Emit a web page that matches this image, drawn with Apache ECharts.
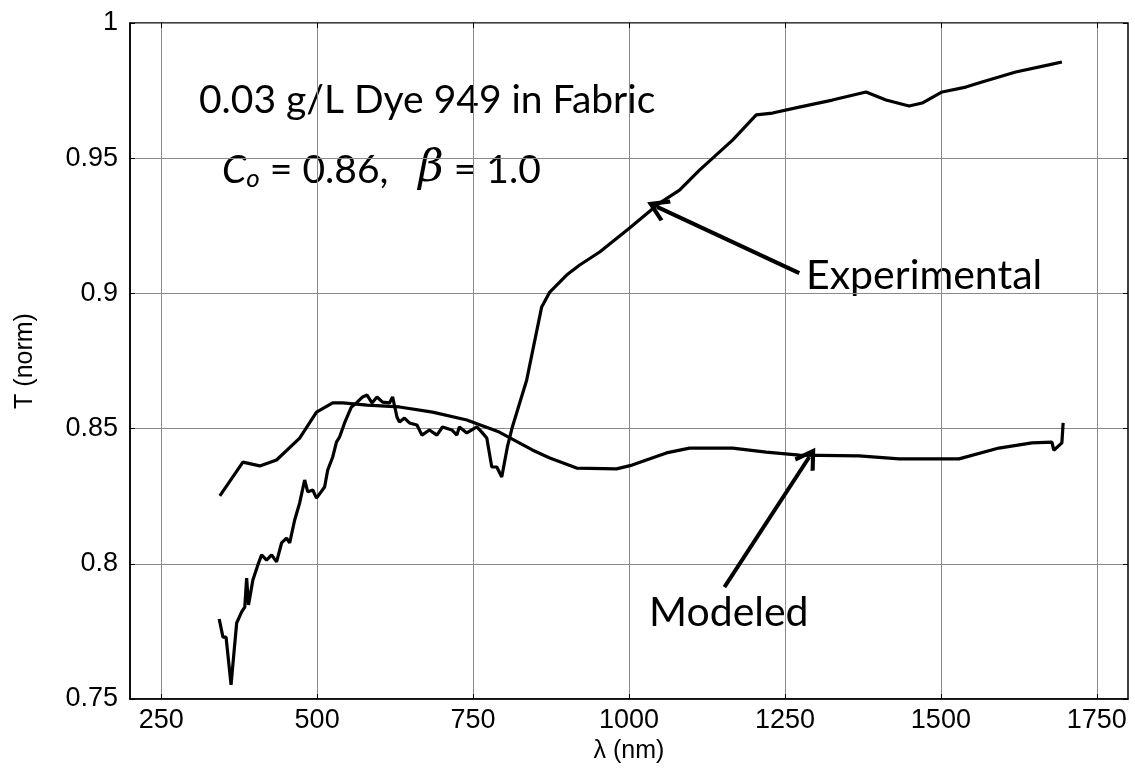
<!DOCTYPE html>
<html>
<head>
<meta charset="utf-8">
<script src="https://cdn.jsdelivr.net/npm/echarts@6/dist/echarts.min.js"></script>
<style>
html,body{margin:0;padding:0;background:#fff;}
#chart{width:1135px;height:770px;}
</style>
</head>
<body>
<div id="chart"></div>
<script>
// ---- data ----
const xTicks = [250, 500, 750, 1000, 1250, 1500, 1750];
const yTicks = [0.75, 0.8, 0.85, 0.9, 0.95, 1];

const modeledX = [344, 381, 408, 435, 472, 499, 525, 541, 580, 632, 685, 740, 792, 845, 873, 916, 980, 1005, 1060, 1097, 1166, 1220, 1273, 1369, 1433, 1529, 1593, 1646, 1678, 1681, 1694, 1696];
const modeledY = [0.8251, 0.8376, 0.8362, 0.8384, 0.8465, 0.8561, 0.8595, 0.8595, 0.8587, 0.8580, 0.8561, 0.8532, 0.8487, 0.8421, 0.8391, 0.8354, 0.8351, 0.8365, 0.8410, 0.8428, 0.8428, 0.8413, 0.8402, 0.8399, 0.8388, 0.8388, 0.8428, 0.8447, 0.8450, 0.8420, 0.8447, 0.8521];

const expX = [343, 349, 354, 362, 371, 379, 384, 387, 390, 397, 405, 411, 419, 427, 435, 443, 451, 456, 464, 472, 480, 485, 493, 499, 512, 517, 525, 531, 536, 544, 555, 563, 573, 580, 588, 596, 605, 616, 621, 628, 632, 640, 648, 660, 668, 680, 692, 701, 716, 724, 728, 740, 748, 756, 764, 772, 780, 788, 796, 805, 813, 836, 860, 873, 900, 921, 953, 1001, 1049, 1081, 1113, 1166, 1204, 1230, 1273, 1326, 1380, 1412, 1449, 1470, 1502, 1540, 1566, 1620, 1673, 1694];
const expY = [0.7796, 0.7729, 0.7729, 0.7552, 0.7781, 0.7822, 0.7840, 0.7947, 0.7848, 0.7940, 0.7996, 0.8033, 0.8014, 0.8033, 0.8007, 0.8077, 0.8095, 0.8077, 0.8162, 0.8225, 0.8310, 0.8266, 0.8273, 0.8243, 0.8284, 0.8347, 0.8395, 0.8450, 0.8469, 0.8521, 0.8580, 0.8595, 0.8617, 0.8624, 0.8595, 0.8617, 0.8598, 0.8595, 0.8617, 0.8543, 0.8524, 0.8539, 0.8521, 0.8513, 0.8476, 0.8495, 0.8476, 0.8506, 0.8495, 0.8476, 0.8506, 0.8484, 0.8495, 0.8506, 0.8487, 0.8465, 0.8358, 0.8358, 0.8321, 0.8432, 0.8506, 0.8680, 0.8950, 0.9005, 0.9068, 0.9105, 0.9153, 0.9242, 0.9334, 0.9382, 0.9456, 0.9567, 0.9660, 0.9667, 0.9689, 0.9715, 0.9745, 0.9715, 0.9693, 0.9704, 0.9745, 0.9763, 0.9782, 0.9819, 0.9845, 0.9856];

// annotation arrows: [tailX, tailY, headX, headY] in data units
const expArrow = [1273, 0.9075, 1045, 0.9320];
const modArrow = [1153, 0.7914, 1289, 0.8395];

const titleLine1 = '0.03 g/L Dye 949 in Fabric';
const expLabel = 'Experimental';
const modLabel = 'Modeled';

// ---- chart ----
const zip = (a, b) => a.map((v, i) => [v, b[i]]);
const chart = echarts.init(document.getElementById('chart'), null, {renderer: 'canvas'});
const tickFont = {fontFamily: 'Liberation Sans, Arial, sans-serif', fontSize: 27, color: '#000'};
const chevron = 'path://M0,0 L11,15 L8,17 L0,6 L-8,17 L-11,15 Z';
const arrowLine = (a) => ({
  silent: true,
  symbol: ['none', chevron],
  symbolSize: [24, 22],
  lineStyle: {color: '#000', width: 4, type: 'solid'},
  label: {show: false},
  data: [[{coord: [a[0], a[1]]}, {coord: [a[2], a[3]]}]]
});

const option = {
  backgroundColor: '#fff',
  animation: false,
  grid: {left: 130, right: 7, top: 23, bottom: 71, show: true, borderColor: '#000', borderWidth: 1.5},
  xAxis: [{
    type: 'value', min: 200, max: 1800,
    name: 'λ (nm)', nameLocation: 'middle', nameGap: 36,
    nameTextStyle: {fontFamily: 'Liberation Sans, Arial, sans-serif', fontSize: 25, color: '#000'},
    axisLine: {show: true, onZero: false, lineStyle: {color: '#000', width: 1.5}},
    axisTick: {show: true, inside: true, length: 5, customValues: xTicks, lineStyle: {color: '#000'}},
    axisLabel: Object.assign({customValues: xTicks, margin: 8, formatter: (v) => String(v)}, tickFont),
    splitLine: {show: true, lineStyle: {color: '#8a8a8a', width: 1}}
  }, {
    type: 'value', min: 200, max: 1800, position: 'top',
    axisLine: {show: false},
    axisTick: {show: true, inside: true, length: 5, customValues: xTicks, lineStyle: {color: '#000'}},
    axisLabel: {show: false},
    splitLine: {show: false}
  }],
  yAxis: [{
    type: 'value', min: 0.75, max: 1, interval: 0.05,
    name: 'T (norm)', nameLocation: 'middle', nameGap: 92,
    nameTextStyle: {fontFamily: 'Liberation Sans, Arial, sans-serif', fontSize: 25, color: '#000'},
    axisLine: {show: true, onZero: false, lineStyle: {color: '#000', width: 1.5}},
    axisTick: {show: true, inside: true, length: 5, lineStyle: {color: '#000'}},
    axisLabel: Object.assign({margin: 12}, tickFont),
    splitLine: {show: true, lineStyle: {color: '#8a8a8a', width: 1}}
  }, {
    type: 'value', min: 0.75, max: 1, interval: 0.05, position: 'right',
    axisLine: {show: false},
    axisTick: {show: true, inside: true, length: 5, lineStyle: {color: '#000'}},
    axisLabel: {show: false},
    splitLine: {show: false}
  }],
  series: [{
    name: 'Modeled', type: 'line', data: zip(modeledX, modeledY),
    showSymbol: false, smooth: false,
    lineStyle: {color: '#000', width: 3.2},
    markLine: arrowLine(modArrow)
  }, {
    name: 'Experimental', type: 'line', data: zip(expX, expY),
    showSymbol: false, smooth: false,
    lineStyle: {color: '#000', width: 3.2},
    markLine: arrowLine(expArrow)
  }],
  graphic: [
    {type: 'text', left: 199, top: 81, style: {text: titleLine1, font: '39px Lato, sans-serif', fill: '#000'}},
    {type: 'text', left: 222, top: 148, style: {
      text: '{c|C}{s|o}{n| = 0.86,   }{b|β}{n| = 1.0}',
      rich: {
        c: {fontFamily: 'Lato', fontStyle: 'italic', fontSize: 39, color: '#000'},
        s: {fontFamily: 'Lato', fontStyle: 'italic', fontSize: 26, color: '#000', verticalAlign: 'bottom', padding: [16, 0, 0, 0]},
        n: {fontFamily: 'Lato', fontSize: 39, color: '#000'},
        b: {fontFamily: 'DejaVu Serif', fontStyle: 'italic', fontSize: 44, color: '#000'}
      }
    }},
    {type: 'text', left: 806, top: 255, style: {text: expLabel, font: '41px Lato, sans-serif', fill: '#000'}},
    {type: 'text', left: 649, top: 592, style: {text: modLabel, font: '41px Lato, sans-serif', fill: '#000'}}
  ]
};
chart.setOption(option);
</script>
</body>
</html>
